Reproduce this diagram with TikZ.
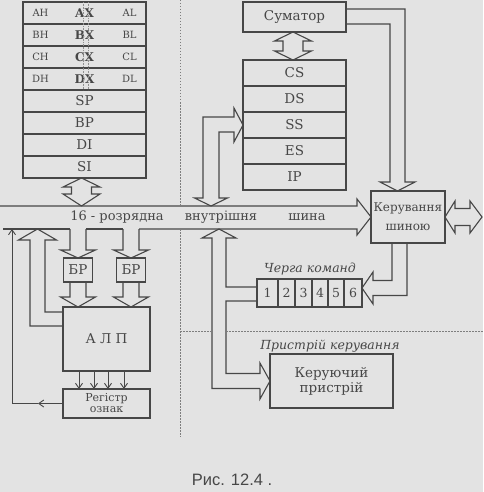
\documentclass[tikz,border=0pt]{standalone}
\usepackage{fontspec}
\setmainfont{DejaVu Serif}
\newfontfamily\capfont{Liberation Sans}
\usetikzlibrary{positioning,calc,arrows.meta}
\colorlet{ink}{black!72}
\colorlet{paper}{black!11}

\begin{document}
\begin{tikzpicture}[
    x=1pt, y=-1pt,
    % --- STYLES ---
    box/.style={
        rectangle, draw=ink, line width=1.1pt,
        inner sep=0pt, outer sep=0pt,
        align=center, text=ink,
        font=\fontsize{13.5}{15}\selectfont
    },
    gpcell/.style={box, minimum width=123pt, minimum height=22pt},
    segcell/.style={box, minimum width=103pt, minimum height=26pt},
    halfreg/.style={font=\fontsize{10}{11}\selectfont, text=ink},
    qcell/.style={box, minimum height=28pt, font=\fontsize{12.5}{13}\selectfont},
    wide/.style={draw=ink, line width=1.1pt, line join=miter},
    thinarrow/.style={draw=ink, line width=0.9pt, -{Straight Barb[length=5pt,width=7pt]}},
    busword/.style={font=\fontsize{13}{14}\selectfont, text=ink},
    label/.style={font=\fontsize{12.5}{14}\selectfont\itshape, text=ink},
    sepline/.style={draw=ink!70, line width=0.6pt, dash pattern=on 1.5pt off 1.5pt}
]

% ===== 0. FRAME =====
\fill[paper] (0,0) rectangle (483,492);
\useasboundingbox (0,0) rectangle (483,492);

\def\yTop{206}  % верхня лінія шини
\def\yBot{229}  % нижня лінія шини
\def\xH{40.5}
\def\xL{129.5}

% ===== 1. РЕГІСТРИ ЗАГАЛЬНОГО ПРИЗНАЧЕННЯ =====
\node[gpcell, font=\fontsize{12}{13}\selectfont\bfseries] (rAX) at (84.5,13) {AX};
\node[gpcell, below=0pt of rAX, font=\fontsize{12}{13}\selectfont\bfseries] (rBX) {BX};
\node[gpcell, below=0pt of rBX, font=\fontsize{12}{13}\selectfont\bfseries] (rCX) {CX};
\node[gpcell, below=0pt of rCX, font=\fontsize{12}{13}\selectfont\bfseries] (rDX) {DX};
\node[gpcell, below=0pt of rDX] (rSP) {SP};
\node[gpcell, below=0pt of rSP] (rBP) {BP};
\node[gpcell, below=0pt of rBP] (rDI) {DI};
\node[gpcell, below=0pt of rDI] (rSI) {SI};

\node[halfreg] (ah) at (\xH, 0 |- rAX) {AH};
\node[halfreg] (al) at (\xL, 0 |- rAX) {AL};
\node[halfreg] (bh) at (\xH, 0 |- rBX) {BH};
\node[halfreg] (bl) at (\xL, 0 |- rBX) {BL};
\node[halfreg] (ch) at (\xH, 0 |- rCX) {CH};
\node[halfreg] (cl) at (\xL, 0 |- rCX) {CL};
\node[halfreg] (dh) at (\xH, 0 |- rDX) {DH};
\node[halfreg] (dl) at (\xL, 0 |- rDX) {DL};

% подвійна межа між старшим і молодшим байтом
\draw[ink!60, line width=0.6pt, densely dotted] ([xshift=-1.2pt]rAX.north) -- ([xshift=-1.2pt]rDX.south);
\draw[ink!60, line width=0.6pt, densely dotted] ([xshift=3.8pt]rAX.north) -- ([xshift=3.8pt]rDX.south);

% ===== 2. СУМАТОР І СЕГМЕНТНІ РЕГІСТРИ =====
\node[box, minimum width=103pt, minimum height=30pt] (sum) at (294.5,17) {Суматор};

\node[segcell] (rCS) at (294.5,73) {CS};
\node[segcell, below=0pt of rCS] (rDS) {DS};
\node[segcell, below=0pt of rDS] (rSS) {SS};
\node[segcell, below=0pt of rSS] (rES) {ES};
\node[segcell, below=0pt of rES] (rIP) {IP};

\node[box, minimum width=74pt, minimum height=52pt, font=\fontsize{12}{19}\selectfont] (busctl) at (408,217) {Керування\\шиною};

% ===== 3. АЛП =====
\node[box, minimum width=29pt, minimum height=24pt] (br1) at (78,270) {БР};
\node[box, minimum width=29pt, minimum height=24pt] (br2) at (131,270) {БР};

\node[box, minimum width=87pt, minimum height=64pt] (alu) at (106.5,339) {А Л П};
\node[box, minimum width=87pt, minimum height=29pt, font=\fontsize{11}{11}\selectfont] (flags) at (106.5,403.5) {Регістр\\ознак};

% ===== 4. ЧЕРГА КОМАНД І КЕРУЮЧИЙ ПРИСТРІЙ =====
\node[qcell, minimum width=21pt] (q1) at (267.5,293) {1};
\node[qcell, minimum width=17pt, right=0pt of q1] (q2) {2};
\node[qcell, minimum width=17pt, right=0pt of q2] (q3) {3};
\node[qcell, minimum width=16pt, right=0pt of q3] (q4) {4};
\node[qcell, minimum width=16pt, right=0pt of q4] (q5) {5};
\node[qcell, minimum width=18pt, right=0pt of q5] (q6) {6};
\node[label] (qlabel) at (310,269) {Черга команд};

\node[box, minimum width=123pt, minimum height=54pt] (cu) at (331.5,381) {Керуючий\\пристрій};
\node[label] (culabel) at (330,346) {Пристрій керування};

% ===== 5. ШИНА =====
\draw[wide] (0,\yTop) -- (357,\yTop) -- (357,199) -- (busctl.west) -- (357,235) -- (357,\yBot) -- (139,\yBot);
\draw[wide] (123,\yBot) -- (86,\yBot);
\draw[wide] (70,\yBot) -- (3,\yBot);

\node[busword] (bus1) at (117,217) {16 - розрядна};
\node[busword] (bus2) at (221,217) {внутрішня};
\node[busword] (bus3) at (307,217) {шина};

% ===== 6. ШИРОКІ СТРІЛКИ =====
% регістри <-> шина
\draw[wide] (81.5,0 |- rSI.south) -- (100,187) -- (91.5,187) -- (91.5,194) -- (100,194) -- (81.5,\yTop)
    -- (63,194) -- (71.5,194) -- (71.5,187) -- (63,187) -- cycle;

% суматор <-> CS
\draw[wide] (293,0 |- sum.south) -- (311.5,41) -- (303,41) -- (303,51) -- (311.5,51) -- (293,0 |- rCS.north)
    -- (274.5,51) -- (283,51) -- (283,41) -- (274.5,41) -- cycle;

% сегментні регістри <-> шина
\draw[wide] (234,117) -- (203,117) -- (203,198) -- (194.5,198) -- (211,\yTop) -- (227.5,198) -- (219,198)
    -- (219,132) -- (234,132) -- (234,142) -- (rSS.west) -- (234,108) -- cycle;

% суматор -> керування шиною
\draw[wide] (sum.east |- 0,9) -- (405,9) -- (405,182) -- (415,182) -- (397.5,0 |- busctl.north)
    -- (380,182) -- (390,182) -- (390,24) -- (sum.east |- 0,24);

% керування шиною <-> зовнішня шина
\draw[wide] (busctl.east) -- (455,201) -- (455,208.5) -- (470,208.5) -- (470,201) -- (482,217)
    -- (470,233) -- (470,225.5) -- (455,225.5) -- (455,233) -- cycle;

% керування шиною -> черга команд
\draw[wide] (392,0 |- busctl.south) -- (392,280.5) -- (373,280.5) -- (373,272) -- (q6.east |- 0,288)
    -- (373,304) -- (373,295.5) -- (407,295.5) -- (407,0 |- busctl.south);

% шина -> БР -> АЛП
\draw[wide] (70,\yBot) -- (70,250) -- (60.5,250) -- (78,0 |- br1.north) -- (95.5,250) -- (86,250) -- (86,\yBot);
\draw[wide] (123,\yBot) -- (123,250) -- (113.5,250) -- (131,0 |- br2.north) -- (148.5,250) -- (139,250) -- (139,\yBot);
\draw[wide] (70,0 |- br1.south) -- (70,297) -- (60.5,297) -- (78,0 |- alu.north) -- (95.5,297) -- (86,297) -- (86,0 |- br1.south);
\draw[wide] (123,0 |- br2.south) -- (123,297) -- (113.5,297) -- (131,0 |- alu.north) -- (148.5,297) -- (139,297) -- (139,0 |- br2.south);

% АЛП -> шина
\draw[wide] (alu.west |- 0,326) -- (30,326) -- (30,240) -- (18.5,240) -- (37.5,\yBot) -- (56.5,240) -- (45,240)
    -- (45,312) -- (alu.west |- 0,312);

% черга команд -> шина, черга -> керуючий пристрій
\draw[wide] (260,388.5) -- (212,388.5) -- (212,238) -- (202,238) -- (219,\yBot) -- (236,238) -- (226,238)
    -- (226,287) -- (q1.west |- 0,287);
\draw[wide] (q1.west |- 0,301) -- (226,301) -- (226,373.5) -- (260,373.5) -- (260,363) -- (cu.west)
    -- (260,399) -- (260,388.5);

% ===== 7. ТОНКІ СТРІЛКИ =====
\draw[thinarrow] (79,0 |- alu.south) -- (79,0 |- flags.north);
\draw[thinarrow] (94,0 |- alu.south) -- (94,0 |- flags.north);
\draw[thinarrow] (108,0 |- alu.south) -- (108,0 |- flags.north);
\draw[thinarrow] (124,0 |- alu.south) -- (124,0 |- flags.north);

\coordinate (fmid) at (38,0 |- flags.west);
\draw[thinarrow] (flags.west) -- (fmid);
\draw[thinarrow] (fmid) -- (12,0 |- flags.west) -- (12,\yBot);

% ===== 8. РОЗДІЛЬНІ ЛІНІЇ =====
\draw[sepline] (180,0) -- (180,\yTop);
\draw[sepline] (180,\yBot) -- (180,437);
\draw[sepline] (180,331) -- (212,331);
\draw[sepline] (226,331) -- (483,331);

% ===== 9. ПІДПИС =====
\node[font=\capfont\fontsize{16.5}{18}\selectfont, text=ink] (fig) at (232,480) {Рис. 12.4 .};

\end{tikzpicture}
\end{document}
